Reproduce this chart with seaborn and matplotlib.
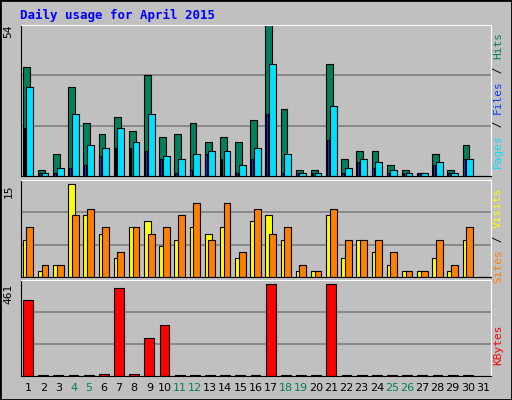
import matplotlib
matplotlib.use("Agg")
import matplotlib.pyplot as plt
import seaborn as sns
import numpy as np

days = list(range(1, 32))
weekend = [4, 5, 11, 12, 18, 19, 25, 26]

hits = [39, 2, 8, 32, 19, 15, 21, 16, 36, 14, 15, 19, 12, 14, 12, 20,
        54, 24, 2, 2, 40, 6, 9, 9, 4, 2, 1, 8, 2, 11, 0]
files = [32, 1, 3, 22, 11, 10, 17, 12, 22, 7, 6, 8, 9, 9, 4, 10,
         40, 8, 1, 1, 25, 3, 6, 5, 2, 1, 1, 5, 1, 6, 0]
pages = [17, 1, 1, 3, 4, 7, 10, 10, 9, 6, 1, 2, 8, 6, 1, 6,
         22, 1, 1, 1, 13, 1, 5, 3, 1, 1, 1, 4, 1, 6, 0]
sites = [6, 1, 2, 15, 10, 7, 3, 8, 9, 5, 6, 8, 7, 8, 3, 9,
         10, 6, 1, 1, 10, 3, 6, 4, 2, 1, 1, 3, 1, 6, 0]
visits = [8, 2, 2, 10, 11, 8, 4, 8, 7, 8, 10, 12, 6, 12, 4, 11,
          7, 8, 2, 1, 11, 6, 6, 6, 4, 1, 1, 6, 2, 8, 0]
kbytes = [380, 3, 3, 3, 3, 10, 441, 10, 192, 258, 3, 3, 3, 3, 3, 3,
          461, 3, 3, 3, 461, 3, 3, 3, 3, 3, 3, 3, 3, 3, 0]

BG = "#C0C0C0"
x = np.array(days, dtype=float)

fig = plt.figure(figsize=(5.12, 4.0), dpi=100, facecolor=BG)
L, W = 20.5 / 512, 470 / 512
ax1 = fig.add_axes([L, 1 - 176 / 400, W, 151 / 400])
ax2 = fig.add_axes([L, 1 - 277 / 400, W, 97 / 400])
ax3 = fig.add_axes([L, 1 - 376 / 400, W, 96 / 400])

def bars(ax, xs, ys, color, width):
    sns.barplot(x=xs, y=ys, native_scale=True, width=width, color=color,
                edgecolor="black", linewidth=0.8, saturation=1, ax=ax)

bars(ax1, x - 0.12, hits, "#00805C", 0.45)
bars(ax1, x + 0.12, files, "#00E0FF", 0.45)
bars(ax1, x - 0.24, pages, "#0040FF", 0.12)
bars(ax2, x - 0.12, sites, "#FFFF00", 0.45)
bars(ax2, x + 0.12, visits, "#FF8000", 0.45)
bars(ax3, x, kbytes, "#FF0000", 0.65)

tops = [(ax1, 54, 54, "54"), (ax2, 15.65, 15, "15"), (ax3, 481, 461, "461")]
for ax, top, mx, lab in tops:
    ax.set_facecolor(BG)
    ax.set_xlim(0.5, 31.5)
    ax.set_ylim(0, top)
    for k in (1, 2):
        ax.axhline(top * k / 3, color="#808080", lw=1.2, zorder=0)
    ax.set_yticks([])
    ax.set_xticks([])
    ax.set_xlabel("")
    ax.set_ylabel("")
    for s in ("left", "bottom"):
        ax.spines[s].set_color("black")
    for s in ("right", "top"):
        ax.spines[s].set_color("white")
    ax.text(-0.025, mx / top, lab, transform=ax.transAxes, rotation=90,
            ha="center", va="top", fontsize=8, family="DejaVu Sans Mono")

ax3.set_xticks(days)
ax3.set_xticklabels([str(d) for d in days], fontsize=8)
ax3.tick_params(axis="x", length=0, pad=5)
for t, d in zip(ax3.get_xticklabels(), days):
    t.set_color("#00805C" if d in weekend else "black")

fig.text(20 / 512, 1 - 15 / 400, "Daily usage for April 2015", color="#0000FF",
         fontsize=9, fontweight="bold", family="DejaVu Sans Mono", va="center")

def side(y_center, parts):
    # parts listed bottom-to-top, drawn rotated
    total = sum(len(p) for p, _ in parts)
    ch = 6.8 / 400
    y = y_center - total * ch / 2
    for p, c in parts:
        fig.text(498 / 512, y, p, color=c, rotation=90, fontsize=8,
                 family="DejaVu Sans Mono", ha="center", va="bottom")
        y += len(p) * ch

side(1 - 100 / 400, [("Pages", "#00E0FF"), (" / ", "black"), ("Files", "#0040FF"),
                     (" / ", "black"), ("Hits", "#00805C")])
side(1 - 235 / 400, [("Sites", "#FF8000"), (" / ", "black"), ("Visits", "#FFFF00")])
side(1 - 345 / 400, [("KBytes", "#FF0000")])

fig.patches.append(plt.Rectangle((0, 0), 1, 1, transform=fig.transFigure,
                                 fill=False, edgecolor="black", lw=2))
fig.savefig("out.png", dpi=100, facecolor=BG)
